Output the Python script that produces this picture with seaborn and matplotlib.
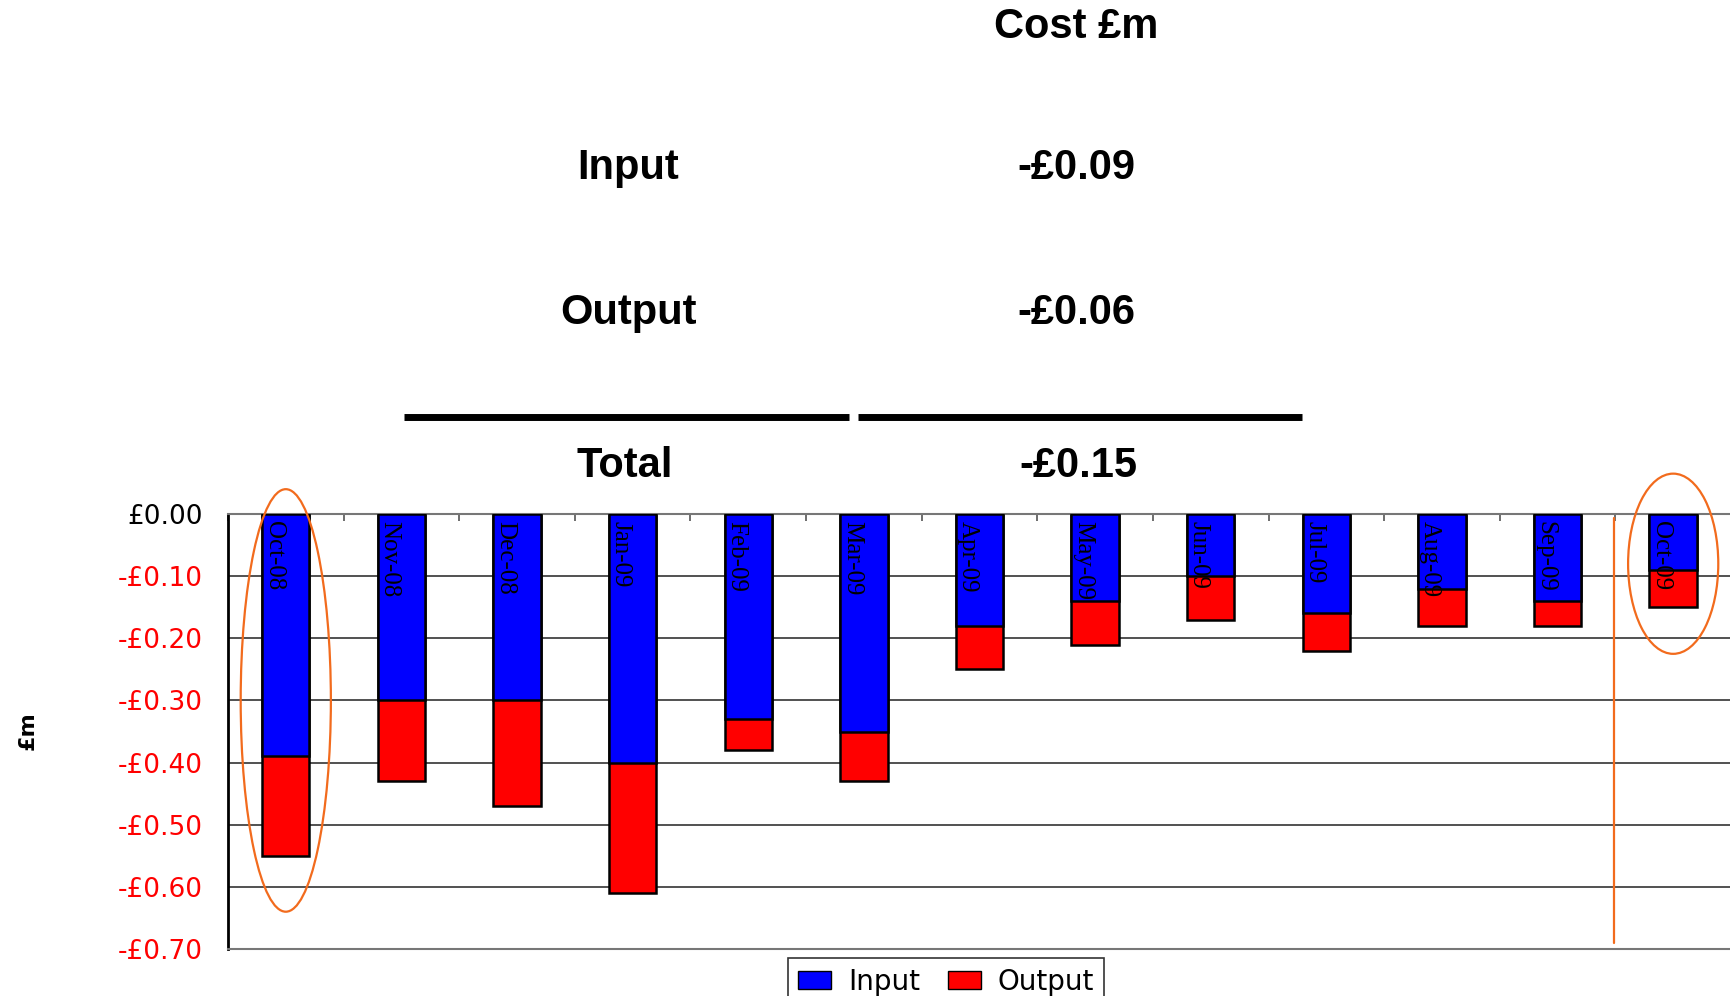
import matplotlib as mpl
mpl.use('Agg')
import matplotlib.pyplot as plt
from matplotlib.patches import Ellipse, Patch
import numpy as np
import pandas as pd
import seaborn as sns

# data (£m)
months = ['Oct-08', 'Nov-08', 'Dec-08', 'Jan-09', 'Feb-09', 'Mar-09', 'Apr-09',
          'May-09', 'Jun-09', 'Jul-09', 'Aug-09', 'Sep-09', 'Oct-09']
input_cost = [-0.39, -0.30, -0.30, -0.40, -0.33, -0.35, -0.18,
              -0.14, -0.10, -0.16, -0.12, -0.14, -0.09]
output_cost = [-0.16, -0.13, -0.17, -0.21, -0.05, -0.08, -0.07,
               -0.07, -0.07, -0.06, -0.06, -0.04, -0.06]
ytick_vals = [0.0, -0.1, -0.2, -0.3, -0.4, -0.5, -0.6, -0.7]
ytick_labels = ['£0.00', '-£0.10', '-£0.20', '-£0.30', '-£0.40', '-£0.50', '-£0.60', '-£0.70']
summary_rows = [('Input', '-£0.09'), ('Output', '-£0.06')]
summary_total = ('Total', '-£0.15')

df = pd.DataFrame({'month': months, 'input': input_cost, 'output': output_cost})
df['total'] = df['input'] + df['output']

sns.set_style('white')
plt.rcParams['font.family'] = ['DejaVu Sans']
plt.rcParams['text.color'] = 'black'
plt.rcParams['axes.labelcolor'] = 'black'
plt.rcParams['ytick.color'] = 'black'
plt.rcParams['xtick.color'] = 'black'

fig = plt.figure(figsize=(17.31, 9.96), dpi=100)
ax = fig.add_axes([0.1317, 0.0472, 0.8683, 0.4367])

# stacked look: full (red) bar first, blue input part drawn over it
sns.barplot(data=df, x='month', y='total', color='#ff0000', saturation=1,
            width=0.41, edgecolor='black', linewidth=1.8, ax=ax, zorder=2)
sns.barplot(data=df, x='month', y='input', color='#0000ff', saturation=1,
            width=0.41, edgecolor='black', linewidth=1.8, ax=ax, zorder=3)

ax.set_xlim(-0.5, len(months) - 0.5)
ax.set_ylim(-0.70, 0.0)
ax.set_xlabel('')
ax.set_ylabel('')

# y axis
ax.set_yticks(ytick_vals)
ax.set_yticklabels(ytick_labels, fontsize=19)
for lab in ax.get_yticklabels()[1:]:
    lab.set_color('#ff0000')
ax.tick_params(axis='y', direction='out', length=8, width=1.2, color='#333333', pad=10)
ax.yaxis.grid(True, color='#333333', linewidth=1.2)
ax.set_axisbelow(True)

# category axis sits at zero (top), ticks between categories
ax.xaxis.set_ticks_position('top')
ax.set_xticks(np.arange(-0.5, len(months), 1.0))
ax.set_xticklabels([])
ax.tick_params(axis='x', direction='in', length=5, width=1.2, color='#555555')

ax.spines['right'].set_visible(False)
ax.spines['left'].set_color('black')
ax.spines['left'].set_linewidth(2)
ax.spines['top'].set_color('#777777')
ax.spines['bottom'].set_color('#777777')
ax.spines['top'].set_linewidth(1.5)
ax.spines['bottom'].set_linewidth(1.5)

# month names inside the bars
for i, m in enumerate(months):
    ax.text(i - 0.2, -0.012, m, rotation=-90, ha='left', va='top', fontsize=18,
            family='Liberation Serif', color='black', zorder=5)

# orange highlights
orange = '#f26b1d'
ax.add_patch(Ellipse((0, -0.30), 0.78, 0.68, fill=False, edgecolor=orange,
                     linewidth=1.6, clip_on=False, zorder=6))
ax.add_patch(Ellipse((12.0, -0.08), 0.78, 0.29, fill=False, edgecolor=orange,
                     linewidth=1.6, clip_on=False, zorder=6))
ax.plot([11.49, 11.49], [-0.007, -0.69], color=orange, linewidth=1.6, zorder=6)

fig.text(0.016, 0.266, '£m', rotation=90, ha='center', va='center',
         fontsize=16, fontweight='bold')

# summary table above the chart
bold = dict(fontsize=30, fontweight='bold', family='Liberation Sans', ha='center',
            va='center', color='black')
fig.text(0.622, 0.973, 'Cost £m', **bold)
for (name, val), yy in zip(summary_rows, [0.831, 0.686]):
    fig.text(0.363, yy, name, **bold)
    fig.text(0.622, yy, val, **bold)
fig.add_artist(plt.Line2D([0.2334, 0.4905], [0.581, 0.581], color='black', linewidth=5,
                          solid_capstyle='butt'))
fig.add_artist(plt.Line2D([0.4957, 0.7522], [0.581, 0.581], color='black', linewidth=5,
                          solid_capstyle='butt'))
fig.text(0.361, 0.532, summary_total[0], **bold)
fig.text(0.623, 0.532, summary_total[1], **bold)

handles = [Patch(facecolor='#0000ff', edgecolor='black', label='Input'),
           Patch(facecolor='#ff0000', edgecolor='black', label='Output')]
leg = fig.legend(handles=handles, loc='upper center', bbox_to_anchor=(0.5466, 0.038),
                 ncol=2, fontsize=20, frameon=True, fancybox=False, handlelength=1.2,
                 handleheight=0.6, handletextpad=0.6, columnspacing=1.0,
                 borderpad=0.35, borderaxespad=0)
leg.get_frame().set_edgecolor('black')
leg.get_frame().set_linewidth(1.2)

fig.savefig('out.png', dpi=100)
